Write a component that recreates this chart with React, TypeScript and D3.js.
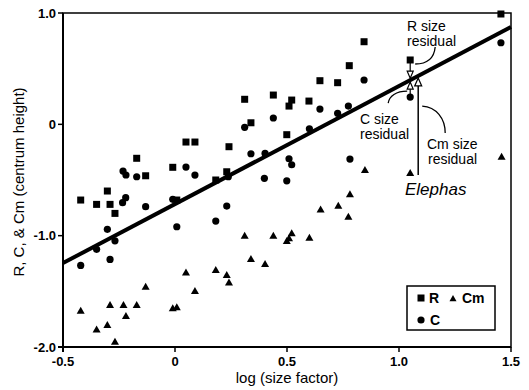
import React from "react";
import * as d3 from "d3";

// ---------- data ----------
const xTicks = [-0.5, 0, 0.5, 1.0, 1.5];
const xTickLabels = ["-0.5", "0", "0.5", "1.0", "1.5"];
const yTicks = [1.0, 0, -1.0, -2.0];
const yTickLabels = ["1.0", "0", "-1.0", "-2.0"];

const seriesR: [number, number][] = [
  [-0.421, -0.68], [-0.35, -0.719], [-0.29, -0.719], [-0.268, -0.8], [-0.302, -0.599],
  [-0.171, -0.305], [-0.131, -0.462], [-0.01, -0.386], [0.008, -0.68], [0.049, -0.159],
  [0.089, -0.159], [0.241, -0.201], [0.231, -0.426], [0.182, -0.5], [0.311, 0.225],
  [0.339, 0.014], [0.439, 0.263], [0.521, 0.218], [0.509, 0.164], [0.598, 0.209],
  [0.499, -0.093], [0.647, 0.392], [0.726, 0.374], [0.778, 0.527], [0.844, 0.742],
  [1.05, 0.578], [1.455, 0.991],
];

const seriesC: [number, number][] = [
  [-0.421, -1.267], [-0.35, -1.123], [-0.302, -0.943], [-0.29, -1.213], [-0.268, -1.046],
  [-0.232, -0.42], [-0.219, -0.455], [-0.234, -0.704], [-0.22, -0.659], [-0.171, -0.471],
  [-0.131, -0.74], [-0.01, -0.674], [0.008, -0.92], [0.049, -0.384], [0.089, -0.456],
  [0.238, -0.471], [0.231, -0.734], [0.182, -0.869], [0.311, -0.027], [0.339, -0.264],
  [0.402, -0.261], [0.399, -0.485], [0.439, 0.057], [0.509, -0.309], [0.521, -0.363],
  [0.499, -0.507], [0.6, -0.04], [0.647, 0.137], [0.726, 0.099], [0.774, 0.164],
  [0.844, 0.398], [0.781, -0.312], [1.05, 0.245], [1.455, 0.733],
];

const seriesCm: [number, number][] = [
  [-0.421, -1.675], [-0.35, -1.842], [-0.302, -1.803], [-0.29, -1.623], [-0.268, -1.953],
  [-0.23, -1.623], [-0.219, -1.722], [-0.171, -1.623], [-0.131, -1.459], [-0.01, -1.653],
  [0.008, -1.644], [0.049, -1.33], [0.089, -1.498], [0.182, -1.309], [0.231, -1.354],
  [0.241, -1.42], [0.311, -1.001], [0.339, -1.21], [0.402, -1.255], [0.439, -1.001],
  [0.499, -1.049], [0.509, -1.024], [0.521, -0.979], [0.6, -1.019], [0.65, -0.764],
  [0.729, -0.731], [0.774, -0.83], [0.781, -0.628], [0.848, -0.41], [1.05, -0.438],
  [1.458, -0.291],
];

// regression line: y = intercept + slope * x
const regSlope = 1.06;
const regIntercept = -0.716;
const regDomain = [-0.5, 1.5];

// Elephas (highlighted taxon)
const elephasX = 1.05;
const elephasR = 0.578;
const elephasC = 0.245;
const elephasCm = -0.438;

// ---------- layout ----------
const W = 529;
const H = 390;
const L = 63, R = 511, T = 13, B = 347;
const FONT = "'Liberation Sans', Arial, Helvetica, sans-serif";

export default function App() {
  const x = d3.scaleLinear().domain([-0.5, 1.5]).range([L, R]);
  const y = d3.scaleLinear().domain([-2, 1]).range([B, T]);

  const regLine = d3
    .line<number>()
    .x((v) => x(v))
    .y((v) => y(regIntercept + regSlope * v))(regDomain) as string;

  const tri = (cx: number, cy: number, s = 4) =>
    `M${cx},${cy - s} L${cx + s},${cy + s * 0.75} L${cx - s},${cy + s * 0.75} Z`;

  // Elephas positions
  const ex = x(elephasX);
  const eR = y(elephasR);
  const eC = y(elephasC);
  const eCm = y(elephasCm);
  const lineAt = (px: number) => y(regIntercept + regSlope * x.invert(px));
  const lyE = lineAt(ex);
  const cmX = ex + 8;
  const lyCm = lineAt(cmX);

  return (
    <svg
      width={W}
      height={H}
      style={{ position: "absolute", left: 0, top: 0, background: "#fff" }}
      fontFamily={FONT}
    >
      <rect x={0} y={0} width={W} height={H} fill="#fff" />
      {/* frame */}
      <rect x={L} y={T} width={R - L} height={B - T} fill="none" stroke="#000" strokeWidth={1.5} />
      <line x1={L} x2={L} y1={T} y2={B + 5} stroke="#000" strokeWidth={2} />
      <line x1={L - 5} x2={R} y1={B} y2={B} stroke="#000" strokeWidth={2} />

      {/* x ticks */}
      {xTicks.map((t, i) => (
        <g key={"xt" + i}>
          <line x1={x(t)} x2={x(t)} y1={B} y2={B + 5} stroke="#000" strokeWidth={1.5} />
          <text x={x(t)} y={366} textAnchor="middle" fontSize={13} fontWeight="bold">
            {xTickLabels[i]}
          </text>
        </g>
      ))}
      {/* y ticks */}
      {yTicks.map((t, i) => (
        <g key={"yt" + i}>
          <line x1={L - 5} x2={L} y1={y(t)} y2={y(t)} stroke="#000" strokeWidth={1.5} />
          <text x={56} y={y(t) + 4.5} textAnchor="end" fontSize={13} fontWeight="bold">
            {yTickLabels[i]}
          </text>
        </g>
      ))}

      {/* axis titles */}
      <text x={(L + R) / 2} y={383} textAnchor="middle" fontSize={15}>
        log (size factor)
      </text>
      <text
        transform={`translate(24,${(T + B) / 2 + 2}) rotate(-90)`}
        textAnchor="middle"
        fontSize={15}
      >
        R, C, &amp; Cm (centrum height)
      </text>

      {/* regression line */}
      <path d={regLine} fill="none" stroke="#000" strokeWidth={4} />

      {/* points */}
      {seriesR.map(([a, b], i) => (
        <rect key={"r" + i} x={x(a) - 3.5} y={y(b) - 3.5} width={7} height={7} fill="#000" />
      ))}
      {seriesC.map(([a, b], i) => (
        <circle key={"c" + i} cx={x(a)} cy={y(b)} r={3.6} fill="#000" />
      ))}
      {seriesCm.map(([a, b], i) => (
        <path key={"m" + i} d={tri(x(a), y(b))} fill="#000" />
      ))}

      {/* residual arrows */}
      {/* R */}
      <line x1={ex} x2={ex} y1={eR + 3} y2={lyE - 8} stroke="#000" strokeWidth={1.2} />
      <path d={`M${ex - 3},${lyE - 9} L${ex + 3},${lyE - 9} L${ex},${lyE - 2} Z`} fill="#fff" stroke="#000" strokeWidth={1.2} />
      {/* C */}
      <line x1={ex} x2={ex} y1={eC - 3} y2={lyE + 8} stroke="#000" strokeWidth={1.2} />
      <path d={`M${ex - 3},${lyE + 9} L${ex + 3},${lyE + 9} L${ex},${lyE + 2} Z`} fill="#fff" stroke="#000" strokeWidth={1.2} />
      {/* Cm */}
      <line x1={cmX} x2={cmX} y1={eCm + 2} y2={lyCm + 9} stroke="#000" strokeWidth={1.5} />
      <path d={`M${cmX - 3.5},${lyCm + 10} L${cmX + 3.5},${lyCm + 10} L${cmX},${lyCm + 2} Z`} fill="#fff" stroke="#000" strokeWidth={1.2} />

      {/* annotation curves */}
      <path d={`M${ex + 25},${eR - 13} C${ex + 24},${eR - 3} ${ex + 18},${eR + 4} ${ex + 5},${eR + 4}`} fill="none" stroke="#000" strokeWidth={1.3} />
      <path d={`M${ex - 3},${eC - 6} C${ex - 14},${eC - 6} ${ex - 21},${eC - 1} ${ex - 22},${eC + 6}`} fill="none" stroke="#000" strokeWidth={1.3} />
      <path d={`M${cmX + 4},${eC + 9} C${cmX + 18},${eC + 10} ${cmX + 27},${eC + 21} ${cmX + 27},${eC + 36}`} fill="none" stroke="#000" strokeWidth={1.3} />

      {/* annotation text */}
      <g fontSize={14}>
        <text x={407} y={30.5}>R size</text>
        <text x={407} y={46}>residual</text>
        <text x={360} y={124}>C size</text>
        <text x={360} y={138.5}>residual</text>
        <text x={427} y={149}>Cm size</text>
        <text x={428} y={163.5}>residual</text>
      </g>
      <text x={405} y={195} fontSize={17} fontStyle="italic">Elephas</text>

      {/* legend */}
      <rect x={407} y={286} width={88} height={44} fill="#fff" stroke="#000" strokeWidth={1.5} />
      <rect x={417.5} y={294.5} width={7} height={7} fill="#000" />
      <text x={429} y={303} fontSize={14} fontWeight="bold">R</text>
      <path d={tri(453, 298.5, 3.5)} fill="#000" />
      <text x={462} y={303} fontSize={14} fontWeight="bold">Cm</text>
      <circle cx={421} cy={320} r={3.6} fill="#000" />
      <text x={430} y={325} fontSize={14} fontWeight="bold">C</text>
    </svg>
  );
}
